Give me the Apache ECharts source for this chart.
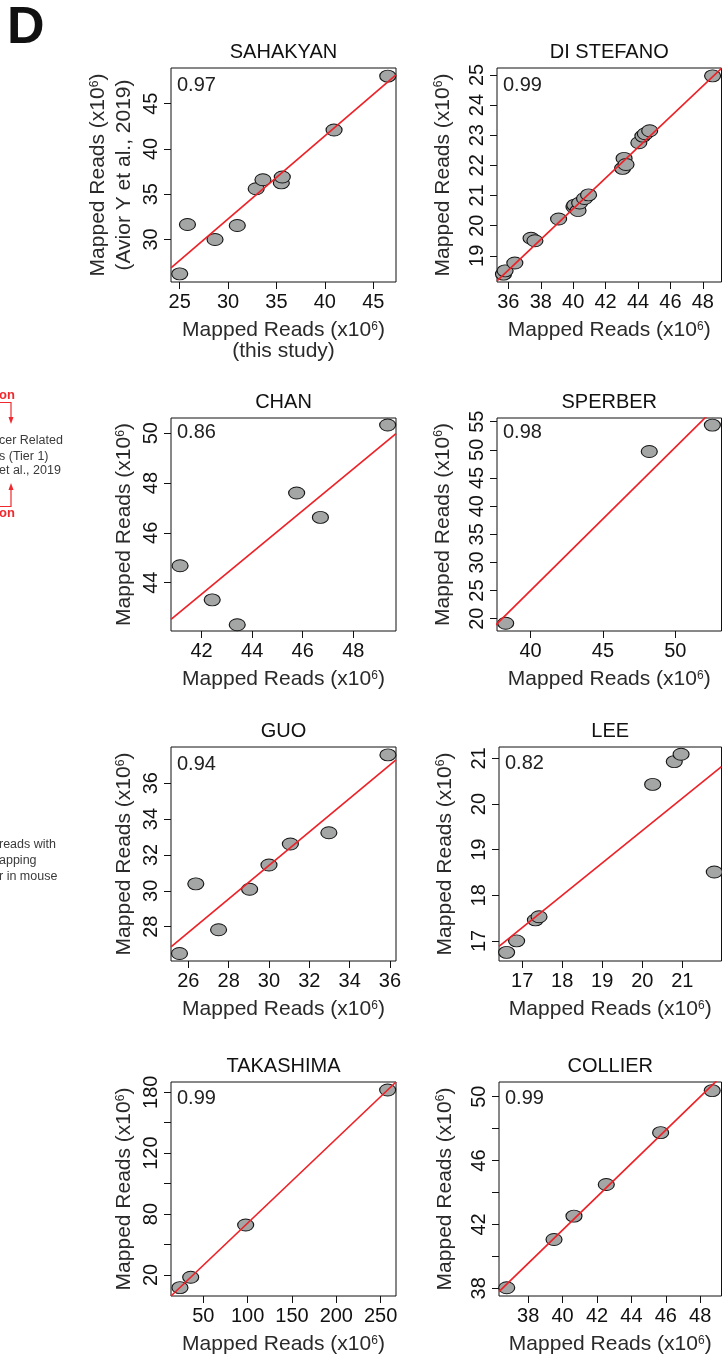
<!DOCTYPE html>
<html>
<head>
<meta charset="utf-8">
<script src="https://cdn.jsdelivr.net/npm/echarts@6/dist/echarts.min.js"></script>
<style>
  html, body { margin: 0; padding: 0; background: #ffffff; }
  #chart { width: 722px; height: 1356px; }
</style>
</head>
<body>
<div id="chart"></div>
<script>
// ---- Data: mapped reads (x10^6) per sample, this study (x) vs. published (y) ----
const PANEL_NAMES = ['SAHAKYAN', 'DI STEFANO', 'CHAN', 'SPERBER', 'GUO', 'LEE', 'TAKASHIMA', 'COLLIER'];
const CORRELATIONS = ['0.97', '0.99', '0.86', '0.98', '0.94', '0.82', '0.99', '0.99'];

const SAHAKYAN_X = [25.0, 25.8, 28.65, 30.95, 32.9, 33.6, 35.5, 35.6, 40.95, 46.5];
const SAHAKYAN_Y = [26.2, 31.65, 30.0, 31.55, 35.6, 36.6, 36.25, 36.9, 42.1, 48.05];
const SAHAKYAN_FIT = [[24.1, 26.86], [47.35, 48.2]];

const DI_STEFANO_X = [35.7, 35.8, 36.4, 37.4, 37.64, 39.1, 40.05, 40.1, 40.3, 40.4, 40.7, 40.95, 43.05, 43.14, 43.26, 44.05, 44.3, 44.45, 44.72, 48.6];
const DI_STEFANO_Y = [18.39, 18.5, 18.76, 19.58, 19.5, 20.22, 20.62, 20.68, 20.5, 20.75, 20.9, 21.02, 21.9, 22.23, 22.03, 22.75, 22.97, 23.05, 23.15, 24.97];
const DI_STEFANO_FIT = [[35.3, 18.17], [49.15, 25.22]];

const CHAN_X = [41.15, 42.42, 43.41, 45.76, 46.7, 49.36];
const CHAN_Y = [44.68, 43.31, 42.31, 47.6, 46.62, 50.33];
const CHAN_FIT = [[40.79, 42.53], [49.69, 49.98]];

const SPERBER_X = [38.28, 48.2, 52.56];
const SPERBER_Y = [19.18, 49.7, 54.4];
const SPERBER_FIT = [[37.6, 18.9], [53.19, 58.58]];

const GUO_X = [25.56, 26.37, 27.5, 29.04, 30.0, 31.06, 32.97, 35.9];
const GUO_Y = [26.51, 30.39, 27.83, 30.09, 31.44, 32.61, 33.24, 37.58];
const GUO_FIT = [[25.14, 26.88], [36.3, 37.3]];

const LEE_X = [16.61, 16.86, 17.33, 17.42, 20.26, 20.8, 20.97, 21.8];
const LEE_Y = [16.75, 17.0, 17.46, 17.53, 20.43, 20.93, 21.09, 18.51];
const LEE_FIT = [[16.42, 16.88], [21.98, 20.82]];

const TAKASHIMA_X = [23.7, 35.8, 97.8, 257.9];
const TAKASHIMA_Y = [8.9, 18.0, 63.8, 182.0];
const TAKASHIMA_FIT = [[13.6, 1.6], [267.3, 189.0]];

const COLLIER_X = [36.75, 39.5, 40.66, 42.54, 45.7, 48.7];
const COLLIER_Y = [38.04, 41.06, 42.52, 44.5, 47.75, 50.38];
const COLLIER_FIT = [[36.3, 37.79], [49.24, 51.29]];

// ---- Tick values and labels ----
const SAHAKYAN_X_TICKS = [25, 30, 35, 40, 45];
const SAHAKYAN_Y_TICKS = [30, 35, 40, 45];
const DI_STEFANO_X_TICKS = [36, 38, 40, 42, 44, 46, 48];
const DI_STEFANO_Y_TICKS = [19, 20, 21, 22, 23, 24, 25];
const CHAN_X_TICKS = [42, 44, 46, 48];
const CHAN_Y_TICKS = [44, 46, 48, 50];
const SPERBER_X_TICKS = [40, 45, 50];
const SPERBER_Y_TICKS = [20, 25, 30, 35, 40, 45, 50, 55];
const GUO_X_TICKS = [26, 28, 30, 32, 34, 36];
const GUO_Y_TICKS = [28, 30, 32, 34, 36];
const LEE_X_TICKS = [17, 18, 19, 20, 21];
const LEE_Y_TICKS = [17, 18, 19, 20, 21];
const TAKASHIMA_X_TICKS = [50, 100, 150, 200, 250];
const TAKASHIMA_Y_TICKS = [20, 46.67, 73.33, 100, 126.67, 153.33, 180];
const TAKASHIMA_Y_TICK_LABELS = ['20', '', '80', '', '120', '', '180'];
const COLLIER_X_TICKS = [38, 40, 42, 44, 46, 48];
const COLLIER_Y_TICKS = [38, 40, 42, 44, 46, 48, 50];
const COLLIER_Y_TICK_LABELS = ['38', '', '42', '', '46', '', '50'];

const PANEL_DATA = [
  { x: SAHAKYAN_X, y: SAHAKYAN_Y, fit: SAHAKYAN_FIT, xt: SAHAKYAN_X_TICKS, yt: SAHAKYAN_Y_TICKS },
  { x: DI_STEFANO_X, y: DI_STEFANO_Y, fit: DI_STEFANO_FIT, xt: DI_STEFANO_X_TICKS, yt: DI_STEFANO_Y_TICKS },
  { x: CHAN_X, y: CHAN_Y, fit: CHAN_FIT, xt: CHAN_X_TICKS, yt: CHAN_Y_TICKS },
  { x: SPERBER_X, y: SPERBER_Y, fit: SPERBER_FIT, xt: SPERBER_X_TICKS, yt: SPERBER_Y_TICKS },
  { x: GUO_X, y: GUO_Y, fit: GUO_FIT, xt: GUO_X_TICKS, yt: GUO_Y_TICKS },
  { x: LEE_X, y: LEE_Y, fit: LEE_FIT, xt: LEE_X_TICKS, yt: LEE_Y_TICKS },
  { x: TAKASHIMA_X, y: TAKASHIMA_Y, fit: TAKASHIMA_FIT, xt: TAKASHIMA_X_TICKS, yt: TAKASHIMA_Y_TICKS, ytl: TAKASHIMA_Y_TICK_LABELS },
  { x: COLLIER_X, y: COLLIER_Y, fit: COLLIER_FIT, xt: COLLIER_X_TICKS, yt: COLLIER_Y_TICKS, ytl: COLLIER_Y_TICK_LABELS }
];

// ---- Layout: plot boxes and axis extents ----
const LAYOUT = [
  { left: 171, top: 68,   width: 225,   height: 214, xr: [24.1, 47.35],  yr: [25.3, 48.95], rTop: 17 },
  { left: 497, top: 68,   width: 224.5, height: 214, xr: [35.3, 49.15],  yr: [18.13, 25.23], rTop: 17 },
  { left: 171, top: 418,  width: 225,   height: 213, xr: [40.79, 49.69], yr: [42.06, 50.61], rTop: 14 },
  { left: 497, top: 418,  width: 224.5, height: 213, xr: [37.68, 53.19], yr: [17.81, 55.66], rTop: 14 },
  { left: 171, top: 747,  width: 225,   height: 214, xr: [25.14, 36.3],  yr: [26.09, 38.02], rTop: 17 },
  { left: 499, top: 747,  width: 222.5, height: 214, xr: [16.42, 21.98], yr: [16.56, 21.25], rTop: 16 },
  { left: 171, top: 1082, width: 225,   height: 214, xr: [13.6, 267.3],  yr: [1.6, 189.0],  rTop: 16 },
  { left: 499, top: 1082, width: 222.5, height: 214, xr: [36.3, 49.24],  yr: [37.52, 50.92], rTop: 16 }
];

const FONT = '"Liberation Sans", Arial, Helvetica, sans-serif';
const INK = '#111111';
const NAME_INK = '#2a2a2a';
const ELLIPSE = 'path://M100,50 C100,77.6 77.6,100 50,100 C22.4,100 0,77.6 0,50 C0,22.4 22.4,0 50,0 C77.6,0 100,22.4 100,50 Z';

// rich text styles for "Mapped Reads (x10^6)" with a raised exponent
function makeRich(lh, raise) {
  return {
    a: { fontFamily: FONT, fontSize: 21, color: NAME_INK, lineHeight: lh },
    s: { fontFamily: FONT, fontSize: 12, color: NAME_INK, lineHeight: 12, verticalAlign: 'top', padding: [raise, 0, 0, 0] }
  };
}
const xRich = makeRich(21, 1);
const yRich = makeRich(26, 3);
const readsName = '{a|Mapped Reads (x10}{s|6}{a|)}';

const grids = [], xAxes = [], yAxes = [], series = [], graphics = [];

PANEL_DATA.forEach((d, i) => {
  const L = LAYOUT[i];
  const leftCol = (i % 2 === 0);
  grids.push({
    left: L.left, top: L.top, width: L.width, height: L.height,
    show: true, borderColor: INK, borderWidth: 1, backgroundColor: 'transparent'
  });

  let xName = readsName;
  let yName = readsName;
  if (i === 0) {
    xName = readsName + '\n{a|(this study)}';
    yName = readsName + '\n{a|(Avior Y et al., 2019)}';
  }

  xAxes.push({
    type: 'value', gridIndex: i, min: L.xr[0], max: L.xr[1],
    axisLine: { show: false },
    splitLine: { show: false },
    axisTick: { show: true, inside: false, length: 7, lineStyle: { color: INK, width: 1 }, customValues: d.xt },
    axisLabel: { show: true, margin: 10, fontFamily: FONT, fontSize: 20, color: INK, customValues: d.xt },
    name: xName, nameLocation: 'middle', nameGap: 37.5,
    nameTextStyle: { rich: xRich, align: 'center' }
  });

  const yLabels = d.ytl
    ? d.yt.filter((v, k) => d.ytl[k] !== '')
    : d.yt;
  yAxes.push({
    type: 'value', gridIndex: i, min: L.yr[0], max: L.yr[1],
    axisLine: { show: false },
    splitLine: { show: false },
    axisTick: { show: true, inside: false, length: 7, lineStyle: { color: INK, width: 1 }, customValues: d.yt },
    axisLabel: {
      show: true, margin: 10, rotate: 90, fontFamily: FONT, fontSize: 20, color: INK,
      customValues: yLabels,
      formatter: (v) => {
        if (!d.ytl) return String(v);
        const k = d.yt.indexOf(v);
        return k >= 0 ? d.ytl[k] : '';
      }
    },
    name: yName, nameLocation: 'middle', nameRotate: 90,
    nameGap: leftCol ? 33.5 : 41,
    nameTextStyle: { rich: yRich, align: 'center' }
  });

  series.push({
    type: 'scatter', xAxisIndex: i, yAxisIndex: i,
    data: d.x.map((xv, k) => [xv, d.y[k]]),
    symbol: ELLIPSE, symbolSize: [16, 12],
    itemStyle: { color: '#a4a6a6', borderColor: '#151515', borderWidth: 1, opacity: 1 },
    z: 2, clip: false, silent: true
  });
  series.push({
    type: 'line', xAxisIndex: i, yAxisIndex: i,
    data: d.fit, symbol: 'none', clip: true,
    lineStyle: { color: '#ec2228', width: 1.7 },
    z: 3, silent: true
  });

  // panel title
  graphics.push({
    type: 'text', x: L.left + L.width / 2, y: L.top - 16,
    style: { text: PANEL_NAMES[i], font: '20px ' + FONT, fill: INK,
      align: 'center', verticalAlign: 'middle', textAlign: 'center', textVerticalAlign: 'middle' },
    z: 10
  });
  // correlation coefficient
  graphics.push({
    type: 'text', x: L.left + 6, y: L.top + L.rTop,
    style: { text: CORRELATIONS[i], font: '20px ' + FONT, fill: '#222222',
      align: 'left', verticalAlign: 'middle', textAlign: 'left', textVerticalAlign: 'middle' },
    z: 10
  });
});

// panel letter
graphics.push({
  type: 'text', x: 7, y: 29,
  style: { text: 'D', font: 'bold 52px ' + FONT, fill: '#111111',
    align: 'left', verticalAlign: 'middle', textAlign: 'left', textVerticalAlign: 'middle' }
});

// neighbouring panel fragments at the left margin
const RED = '#ee2a2f';
const sideText = [
  { t: 'on', x: -1, y: 395, red: true },
  { t: 'on', x: -1, y: 513, red: true },
  { t: 'cer Related', x: -1, y: 441 },
  { t: 's (Tier 1)', x: -1, y: 457 },
  { t: 'et al., 2019', x: -1, y: 471 },
  { t: 'reads with', x: -1, y: 845 },
  { t: 'apping', x: -1, y: 861 },
  { t: 'r in mouse', x: -1, y: 877 }
];
sideText.forEach(s => {
  graphics.push({
    type: 'text', x: s.x, y: s.y,
    style: { text: s.t, font: (s.red ? 'bold 13px ' : '12.5px ') + FONT, fill: s.red ? RED : '#3a3a3a',
      align: 'left', verticalAlign: 'middle', textAlign: 'left', textVerticalAlign: 'middle' }
  });
});
graphics.push(
  { type: 'polyline', shape: { points: [[0, 402.5], [11, 402.5], [11, 418]] }, style: { stroke: RED, lineWidth: 1.2, fill: null } },
  { type: 'polygon', shape: { points: [[8.5, 417], [13.5, 417], [11, 424]] }, style: { fill: RED } },
  { type: 'polyline', shape: { points: [[0, 506.5], [11, 506.5], [11, 489]] }, style: { stroke: RED, lineWidth: 1.2, fill: null } },
  { type: 'polygon', shape: { points: [[8.5, 490], [13.5, 490], [11, 483]] }, style: { fill: RED } }
);

const chart = echarts.init(document.getElementById('chart'), null, { renderer: 'canvas' });
chart.setOption({
  animation: false,
  backgroundColor: '#ffffff',
  grid: grids,
  xAxis: xAxes,
  yAxis: yAxes,
  series: series,
  graphic: graphics
});
</script>
</body>
</html>
